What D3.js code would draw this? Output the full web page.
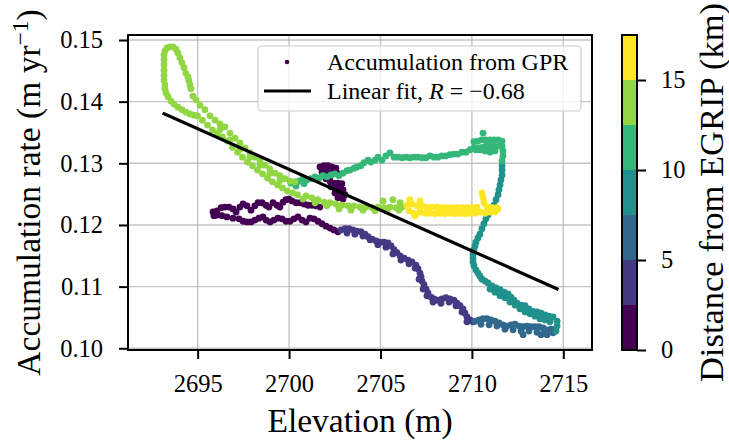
<!DOCTYPE html>
<html>
<head>
<meta charset="utf-8">
<script src="https://cdn.jsdelivr.net/npm/d3@7"></script>
<style>
  html, body { margin: 0; padding: 0; background: #fff; }
  svg { display: block; }
  text { font-family: "Liberation Serif", "Times New Roman", serif; fill: #000; }
</style>
</head>
<body>
<svg id="chart" width="729" height="443"></svg>
<script>
// GPR-derived accumulation along the traverse: [elevation (m), accumulation (m/yr), distance from EGRIP (km)]
const leg0 = [
  [2701.69,0.1294,0.02],[2701.91,0.1296,0.05],[2702.13,0.1296,0.08],[2702.34,0.1294,0.11],[2702.56,0.1292,0.14],
  [2701.80,0.1286,0.17],[2702.07,0.1286,0.20],[2702.34,0.1284,0.23],[2702.62,0.1284,0.26],[2702.24,0.1278,0.29],
  [2702.02,0.1275,0.32],[2702.24,0.1271,0.35],[2702.45,0.1268,0.38],[2702.67,0.1268,0.41],[2702.89,0.1267,0.44],
  [2702.29,0.1262,0.47],[2702.51,0.1260,0.50],[2702.73,0.1258,0.53],[2702.95,0.1257,0.56],[2702.51,0.1252,0.59],
  [2702.78,0.1250,0.62],[2703.06,0.1249,0.65],[2702.67,0.1244,0.68],[2702.95,0.1242,0.71],
  [2701.69,0.1229,0.74],[2701.47,0.1231,0.77],[2701.25,0.1232,0.80],[2701.04,0.1232,0.83],[2700.82,0.1234,0.86],
  [2700.60,0.1236,0.89],[2700.38,0.1236,0.92],[2700.16,0.1239,0.95],[2699.99,0.1242,0.98],[2699.83,0.1241,1.01],
  [2699.67,0.1237,1.04],[2699.50,0.1229,1.07],[2699.34,0.1232,1.10],[2699.12,0.1236,1.13],[2698.90,0.1229,1.16],
  [2698.74,0.1232,1.19],[2698.52,0.1236,1.22],[2698.30,0.1236,1.25],[2698.13,0.1231,1.28],[2697.92,0.1224,1.31],
  [2697.70,0.1231,1.34],[2697.48,0.1234,1.37],[2697.31,0.1229,1.40],[2697.10,0.1221,1.43],[2696.93,0.1226,1.46],
  [2696.71,0.1229,1.49],[2696.49,0.1229,1.52],[2696.28,0.1228,1.55],[2696.06,0.1223,1.58],[2695.84,0.1221,1.61],
  [2695.89,0.1215,1.63],[2696.06,0.1216,1.66],[2696.33,0.1215,1.69],[2696.60,0.1213,1.72],[2696.93,0.1211,1.75],
  [2697.26,0.1210,1.78],[2697.48,0.1206,1.81],[2697.70,0.1205,1.84],[2697.92,0.1205,1.87],[2698.13,0.1208,1.90],
  [2698.35,0.1211,1.93],[2698.57,0.1213,1.96],[2698.74,0.1208,1.99],[2698.96,0.1205,2.02],[2699.17,0.1208,2.05],
  [2699.39,0.1211,2.08],[2699.61,0.1210,2.11],[2699.83,0.1206,2.14],[2700.05,0.1206,2.17],[2700.27,0.1210,2.20],
  [2700.49,0.1213,2.23],[2700.71,0.1208,2.26],[2700.93,0.1205,2.29],[2701.14,0.1211,2.32],[2701.36,0.1210,2.35],
  [2701.58,0.1206,2.38],[2701.80,0.1202,2.40],[2702.02,0.1198,2.42],[2702.24,0.1195,2.44],[2702.45,0.1192,2.46],
  [2702.67,0.1189,2.48]
];
const leg1 = [
  [2702.84,0.1192,2.52],[2703.06,0.1194,2.56],[2703.17,0.1187,2.60],[2703.28,0.1194,2.64],[2703.49,0.1192,2.68],
  [2703.60,0.1185,2.72],[2703.71,0.1190,2.76],[2703.93,0.1189,2.80],[2704.04,0.1182,2.84],[2704.15,0.1185,2.88],
  [2704.32,0.1181,2.92],[2704.43,0.1176,2.96],[2704.54,0.1177,3.00],[2704.76,0.1174,3.04],[2704.86,0.1168,3.08],
  [2704.97,0.1172,3.12],[2705.19,0.1172,3.16],[2705.30,0.1164,3.20],[2705.41,0.1171,3.24],[2705.58,0.1166,3.28],
  [2705.68,0.1153,3.32],[2705.74,0.1160,3.36],[2705.90,0.1155,3.40],[2706.07,0.1150,3.44],[2706.12,0.1143,3.48],
  [2706.29,0.1146,3.52],[2706.51,0.1143,3.56],[2706.56,0.1137,3.60],[2706.72,0.1140,3.64],[2706.89,0.1130,3.68],
  [2706.94,0.1135,3.72],[2707.05,0.1129,3.76],[2707.16,0.1122,3.80],[2707.11,0.1112,3.84],[2707.22,0.1116,3.88],
  [2707.27,0.1109,3.92],[2707.38,0.1103,3.96],[2707.33,0.1096,4.00],[2707.49,0.1096,4.04],[2707.60,0.1090,4.08],
  [2707.54,0.1085,4.12],[2707.76,0.1083,4.16],[2707.87,0.1075,4.20],[2707.93,0.1080,4.24],[2708.14,0.1078,4.28],
  [2708.31,0.1073,4.32],[2708.36,0.1080,4.36],[2708.58,0.1082,4.40],[2708.75,0.1075,4.44],[2708.80,0.1080,4.48],
  [2709.02,0.1078,4.52],[2709.13,0.1069,4.56],[2709.19,0.1073,4.60],[2709.35,0.1069,4.64],[2709.46,0.1059,4.68],
  [2709.51,0.1064,4.72],[2709.62,0.1057,4.76],[2709.73,0.1051,4.80],[2709.73,0.1043,4.84],[2709.90,0.1046,4.88],
  [2710.06,0.1043,4.92]
];
const leg2 = [
  [2710.17,0.1044,5.03],[2710.39,0.1046,5.10],[2710.50,0.1039,5.17],[2710.61,0.1048,5.24],[2710.83,0.1048,5.31],
  [2710.94,0.1038,5.38],[2711.04,0.1046,5.45],[2711.26,0.1044,5.52],[2711.37,0.1036,5.59],[2711.48,0.1041,5.66],
  [2711.70,0.1038,5.73],[2711.81,0.1031,5.80],[2711.92,0.1036,5.87],[2712.14,0.1038,5.94],[2712.25,0.1030,6.01],
  [2712.36,0.1039,6.08],[2712.58,0.1036,6.15],[2712.69,0.1028,6.22],[2712.80,0.1035,6.29],[2712.80,0.1022,6.36],
  [2713.02,0.1036,6.43],[2713.12,0.1028,6.50],[2713.23,0.1035,6.57],[2713.45,0.1035,6.64],[2713.56,0.1026,6.71],
  [2713.67,0.1035,6.78],[2713.78,0.1022,6.85],[2713.89,0.1033,6.92],[2714.00,0.1025,6.99],[2714.11,0.1030,7.06],
  [2714.11,0.1022,7.13],[2714.33,0.1031,7.20],[2714.44,0.1025,7.27],[2714.55,0.1030,7.34]
];
const leg3 = [
  [2714.66,0.1036,7.52],[2714.60,0.1028,7.56],[2714.66,0.1044,7.60],[2714.44,0.1051,7.64],[2714.27,0.1043,7.68],
  [2714.22,0.1052,7.72],[2714.00,0.1054,7.76],[2714.00,0.1046,7.80],[2713.78,0.1057,7.84],[2713.72,0.1048,7.88],
  [2713.56,0.1059,7.92],[2713.45,0.1052,7.96],[2713.34,0.1060,8.00],[2713.18,0.1056,8.04],[2713.12,0.1064,8.08],
  [2712.91,0.1069,8.12],[2712.91,0.1059,8.16],[2712.69,0.1070,8.20],[2712.63,0.1064,8.24],[2712.47,0.1073,8.28],
  [2712.36,0.1070,8.32],[2712.30,0.1078,8.36],[2712.14,0.1083,8.40],[2712.08,0.1075,8.44],[2711.98,0.1088,8.48],
  [2711.81,0.1082,8.52],[2711.76,0.1091,8.56],[2711.54,0.1095,8.60],[2711.54,0.1085,8.64],[2711.32,0.1098,8.68],
  [2711.26,0.1091,8.72],[2711.10,0.1101,8.76],[2710.99,0.1096,8.80],[2710.88,0.1106,8.84],[2710.72,0.1109,8.88],
  [2710.55,0.1112,8.92],[2710.44,0.1117,8.96],[2710.33,0.1122,9.00],[2710.22,0.1127,9.04],[2710.11,0.1134,9.08],
  [2710.06,0.1140,9.12],[2710.06,0.1146,9.16],[2710.06,0.1153,9.20],[2710.11,0.1160,9.24],[2710.17,0.1166,9.28],
  [2710.22,0.1172,9.32],[2710.33,0.1179,9.36],[2710.44,0.1185,9.40],[2710.55,0.1194,9.44],[2710.66,0.1202,9.48],
  [2710.77,0.1210,9.52],[2710.88,0.1216,9.56],[2711.04,0.1224,9.60],[2711.21,0.1232,9.64],[2711.32,0.1241,9.68],
  [2711.43,0.1249,9.72],[2711.48,0.1257,9.76],[2711.54,0.1265,9.80],[2711.59,0.1273,9.84],[2711.65,0.1281,9.88],
  [2711.65,0.1289,9.92],[2711.65,0.1296,9.96]
];
const leg4 = [
  [2711.65,0.1304,10.02],[2711.70,0.1312,10.05],[2711.70,0.1320,10.08],[2711.65,0.1328,10.11],[2711.65,0.1336,10.14],
  [2711.48,0.1328,10.17],[2711.43,0.1338,10.20],[2711.26,0.1320,10.23],[2711.21,0.1328,10.26],[2711.21,0.1338,10.29],
  [2710.99,0.1318,10.32],[2710.99,0.1328,10.35],[2710.99,0.1338,10.38],[2710.77,0.1328,10.41],[2710.77,0.1338,10.44],
  [2710.72,0.1320,10.47],[2710.61,0.1349,10.50],[2710.55,0.1326,10.53],[2710.55,0.1338,10.56],[2710.44,0.1322,10.59],
  [2710.33,0.1336,10.62],[2710.33,0.1325,10.65],[2710.22,0.1322,10.68],[2710.11,0.1335,10.71],[2710.11,0.1325,10.74],
  [2709.90,0.1322,10.77],[2709.68,0.1318,10.80],[2709.46,0.1318,10.83],[2709.24,0.1315,10.86],[2709.02,0.1315,10.89],
  [2708.80,0.1314,10.92],[2708.58,0.1312,10.95],[2708.36,0.1312,10.98],[2708.14,0.1310,11.01],[2707.93,0.1310,11.04],
  [2707.71,0.1312,11.07],[2707.49,0.1309,11.10],[2707.27,0.1309,11.13],[2707.05,0.1310,11.16],[2706.83,0.1310,11.19],
  [2706.61,0.1309,11.22],[2706.40,0.1310,11.25],[2706.18,0.1309,11.28],[2705.96,0.1310,11.31],[2705.74,0.1310,11.34],
  [2705.52,0.1317,11.37],[2705.30,0.1312,11.40],[2705.08,0.1305,11.43],[2704.86,0.1310,11.46],[2704.70,0.1305,11.49],
  [2704.48,0.1302,11.52],[2704.32,0.1305,11.55],[2704.10,0.1301,11.58],[2703.93,0.1296,11.61],[2703.71,0.1294,11.64],
  [2703.55,0.1292,11.67],[2703.33,0.1289,11.70],[2703.17,0.1288,11.73],[2702.95,0.1284,11.76],[2702.73,0.1280,11.79],
  [2702.51,0.1283,11.82],[2702.29,0.1281,11.85],[2702.07,0.1278,11.88],[2701.85,0.1280,11.91],[2701.64,0.1276,11.94],
  [2701.42,0.1278,11.97],[2701.20,0.1275,12.00],[2700.98,0.1273,12.03],[2700.76,0.1275,12.06],[2700.54,0.1271,12.09],
  [2700.32,0.1270,12.12],[2700.10,0.1268,12.15],[2700.82,0.1267,12.18],[2700.38,0.1263,12.21]
];
const leg5 = [
  [2700.32,0.1270,12.52],[2700.05,0.1271,12.54],[2699.78,0.1275,12.56],[2699.50,0.1280,12.58],[2699.23,0.1284,12.60],
  [2698.95,0.1291,12.62],[2698.68,0.1297,12.64],[2698.41,0.1304,12.66],[2698.13,0.1310,12.68],[2697.86,0.1317,12.70],
  [2697.59,0.1325,12.72],[2697.31,0.1333,12.74],[2697.04,0.1341,12.76],[2696.77,0.1349,12.78],[2696.49,0.1359,12.80],
  [2696.22,0.1364,12.82],[2695.95,0.1370,12.84],[2695.67,0.1377,12.86],[2695.40,0.1387,12.88],[2695.13,0.1394,12.90],
  [2694.91,0.1403,12.92],[2694.74,0.1409,12.94],
  [2694.63,0.1421,12.96],[2694.58,0.1427,12.98],[2694.52,0.1434,13.00],[2694.47,0.1440,13.02],[2694.36,0.1446,13.04],
  [2694.25,0.1455,13.06],[2694.14,0.1463,13.08],[2694.03,0.1471,13.10],[2693.92,0.1479,13.12],[2693.81,0.1485,13.14],
  [2693.65,0.1489,13.16],[2693.48,0.1489,13.18],[2693.32,0.1487,13.20],[2693.21,0.1482,13.22],[2693.16,0.1476,13.24],
  [2693.16,0.1468,13.26],[2693.16,0.1460,13.28],[2693.16,0.1451,13.30],[2693.16,0.1443,13.32],[2693.16,0.1435,13.34],
  [2693.21,0.1427,13.36],[2693.21,0.1421,13.38],[2693.27,0.1414,13.40],[2693.38,0.1408,13.42],[2693.54,0.1401,13.44],
  [2693.70,0.1396,13.46],[2693.92,0.1391,13.48],[2694.14,0.1387,13.50],[2694.36,0.1383,13.52],[2694.58,0.1380,13.54],
  [2694.80,0.1378,13.56],
  [2694.99,0.1377,13.58],[2695.26,0.1370,13.60],[2695.54,0.1362,13.62],[2695.81,0.1354,13.64],[2696.08,0.1348,13.66],
  [2696.36,0.1343,13.68],[2696.63,0.1336,13.70],[2696.90,0.1326,13.72],[2697.18,0.1318,13.74],[2697.45,0.1310,13.76],
  [2697.72,0.1302,13.78],[2698.00,0.1296,13.80],[2698.27,0.1289,13.82],[2698.55,0.1283,13.84],[2698.82,0.1276,13.86],
  [2699.09,0.1270,13.88],[2699.37,0.1265,13.90],[2699.64,0.1260,13.92],[2699.91,0.1255,13.94],[2700.19,0.1252,13.96],
  [2700.46,0.1249,13.98],
  [2700.76,0.1242,14.00],[2700.93,0.1247,14.02],[2701.25,0.1244,14.04],[2701.42,0.1236,14.06],[2701.58,0.1241,14.08],
  [2701.91,0.1237,14.10],[2702.07,0.1231,14.12],[2702.24,0.1236,14.14],[2702.56,0.1234,14.16],[2702.73,0.1226,14.18],
  [2702.89,0.1232,14.20],[2703.22,0.1231,14.22],[2703.39,0.1224,14.24],[2703.55,0.1231,14.26],[2703.88,0.1229,14.28],
  [2704.04,0.1224,14.30],[2704.21,0.1229,14.32],[2704.54,0.1228,14.34],[2704.70,0.1223,14.36],[2704.86,0.1229,14.38],
  [2705.14,0.1239,14.40],[2705.19,0.1228,14.42],[2705.36,0.1223,14.44],[2705.52,0.1229,14.46],[2705.68,0.1241,14.48],
  [2705.85,0.1228,14.50],[2706.01,0.1224,14.52],[2706.07,0.1236,14.54],[2706.18,0.1229,14.56],
  [2697.31,0.1323,14.60],[2697.86,0.1310,14.64],[2698.41,0.1297,14.68],[2698.95,0.1284,14.72],[2699.50,0.1272,14.76],
  [2696.22,0.1355,14.80],[2696.77,0.1338,14.84]
];
const leg6 = [
  [2706.45,0.1232,15.03],[2706.56,0.1223,15.08],[2706.61,0.1241,15.13],[2706.72,0.1234,15.18],[2706.83,0.1219,15.23],
  [2706.89,0.1215,15.28],[2707.00,0.1231,15.33],[2707.16,0.1221,15.38],[2707.16,0.1239,15.43],[2707.27,0.1231,15.48],
  [2707.43,0.1219,15.53],[2707.54,0.1229,15.58],[2707.71,0.1219,15.63],[2707.82,0.1229,15.68],[2707.98,0.1218,15.73],
  [2708.09,0.1229,15.78],[2708.26,0.1219,15.83],[2708.36,0.1228,15.88],[2708.53,0.1218,15.93],[2708.64,0.1228,15.98],
  [2708.80,0.1219,16.03],[2708.91,0.1228,16.08],[2709.08,0.1218,16.13],[2709.19,0.1228,16.18],[2709.35,0.1219,16.23],
  [2709.46,0.1228,16.28],[2709.62,0.1218,16.33],[2709.73,0.1228,16.38],[2709.90,0.1219,16.43],[2710.00,0.1228,16.48],
  [2710.17,0.1219,16.53],[2710.28,0.1229,16.58],[2710.44,0.1221,16.63],[2710.55,0.1252,16.68],[2710.61,0.1244,16.73],
  [2710.66,0.1236,16.78],[2710.72,0.1219,16.83],[2710.83,0.1229,16.88],[2710.99,0.1221,16.93],[2711.10,0.1228,16.98],
  [2711.26,0.1221,17.03],[2711.37,0.1228,17.08],[2711.43,0.1226,17.13],
  [2707.60,0.1223,17.18],[2708.14,0.1223,17.22],[2708.69,0.1223,17.26],[2709.24,0.1223,17.30],[2709.79,0.1223,17.34],
  [2710.33,0.1223,17.38],[2710.88,0.1223,17.42]
];

// Axis ticks, colour-bar levels and legend text
const xTicks = [2695, 2700, 2705, 2710, 2715];
const yTicks = [0.10, 0.11, 0.12, 0.13, 0.14, 0.15];
const cbTicks = [0, 5, 10, 15];
const kmLevels = [0, 2.5, 5, 7.5, 10, 12.5, 15, 17.5];
const legendGPR = "Accumulation from GPR";
const legendFit = "Linear fit, ";

// Least-squares fit of accumulation against elevation
const fitSlope = -0.00132;   // (m/yr) per m
const fitAt2700 = 0.1290;    // accumulation at 2700 m
const fitR = -0.68;

// ---------------------------------------------------------------------------
const svg = d3.select("#chart");
const plot = { left: 128, right: 592, top: 35, bottom: 350 };
const fontTick = 24.5, fontLabel = 33.5, fontLegend = 24;

const x = d3.scaleLinear().domain([2691.19, 2716.57]).range([plot.left, plot.right]);
const y = d3.scaleLinear().domain([0.09972, 0.15081]).range([plot.bottom, plot.top]);

const nLevels = kmLevels.length - 1;
const levelColors = d3.range(nLevels).map(i => d3.interpolateViridis(i / (nLevels - 1)));
const color = d3.scaleThreshold().domain(kmLevels.slice(1, -1)).range(levelColors);

const points = [leg0, leg1, leg2, leg3, leg4, leg5, leg6].flat()
  .map(([elev, acc, km]) => ({ elev, acc, km }));

svg.append("defs").append("clipPath").attr("id", "plot-clip")
  .append("rect")
  .attr("x", plot.left).attr("y", plot.top)
  .attr("width", plot.right - plot.left).attr("height", plot.bottom - plot.top);

// grid
const grid = svg.append("g")
  .attr("stroke", "#b0b0b0").attr("stroke-opacity", 0.75).attr("stroke-width", 1.4);
grid.selectAll("line.vx").data(xTicks).join("line").attr("class", "vx")
  .attr("x1", d => x(d)).attr("x2", d => x(d))
  .attr("y1", plot.top).attr("y2", plot.bottom);
grid.selectAll("line.hy").data(yTicks).join("line").attr("class", "hy")
  .attr("x1", plot.left).attr("x2", plot.right)
  .attr("y1", d => y(d)).attr("y2", d => y(d));

// scatter
svg.append("g").attr("clip-path", "url(#plot-clip)")
  .selectAll("circle").data(points).join("circle")
  .attr("cx", d => x(d.elev))
  .attr("cy", d => y(d.acc))
  .attr("r", 3.4)
  .attr("fill", d => color(d.km));

// regression line over the elevation range of the data
const [eMin, eMax] = d3.extent(points, d => d.elev);
const fitLine = d3.line().x(d => x(d)).y(d => y(fitAt2700 + fitSlope * (d - 2700)));
svg.append("path")
  .datum([eMin, eMax])
  .attr("d", fitLine)
  .attr("fill", "none").attr("stroke", "#000").attr("stroke-width", 3.2)
  .attr("stroke-linecap", "square");

// axes
function styleAxis(g) {
  g.attr("font-family", null).attr("font-size", null);
  g.select(".domain").remove();
  g.selectAll(".tick line").attr("stroke", "#000").attr("stroke-width", 2);
  g.selectAll(".tick text").attr("font-size", fontTick).attr("fill", "#000");
}
svg.append("g")
  .attr("transform", `translate(0,${plot.bottom})`)
  .call(d3.axisBottom(x).tickValues(xTicks).tickSize(9).tickPadding(16).tickFormat(d3.format("d")))
  .call(styleAxis);
svg.append("g")
  .attr("transform", `translate(${plot.left},0)`)
  .call(d3.axisLeft(y).tickValues(yTicks).tickSize(9).tickPadding(16).tickFormat(d3.format(".2f")))
  .call(styleAxis);

// frame
svg.append("rect")
  .attr("x", plot.left).attr("y", plot.top)
  .attr("width", plot.right - plot.left).attr("height", plot.bottom - plot.top)
  .attr("fill", "none").attr("stroke", "#000").attr("stroke-width", 2);

// axis titles
svg.append("text")
  .attr("x", (plot.left + plot.right) / 2).attr("y", 432)
  .attr("text-anchor", "middle").attr("font-size", fontLabel)
  .text("Elevation (m)");

const yTitle = svg.append("text")
  .attr("transform", `translate(40,${(plot.top + plot.bottom) / 2}) rotate(-90)`)
  .attr("text-anchor", "middle").attr("font-size", fontLabel);
yTitle.append("tspan").text("Accumulation rate (m yr");
yTitle.append("tspan").attr("font-size", fontLabel * 0.7).attr("dy", -12).text("\u22121");
yTitle.append("tspan").attr("dy", 12).text(")");

// colour bar
const cb = { x: 622, w: 15 };
const yKm = d3.scaleLinear().domain([kmLevels[0], kmLevels[kmLevels.length - 1]]).range([plot.bottom, plot.top]);
const cbg = svg.append("g");
cbg.selectAll("rect.level").data(d3.range(nLevels)).join("rect").attr("class", "level")
  .attr("x", cb.x).attr("width", cb.w)
  .attr("y", i => yKm(kmLevels[i + 1]))
  .attr("height", i => yKm(kmLevels[i]) - yKm(kmLevels[i + 1]))
  .attr("fill", i => levelColors[i]);
cbg.append("rect")
  .attr("x", cb.x).attr("y", plot.top).attr("width", cb.w).attr("height", plot.bottom - plot.top)
  .attr("fill", "none").attr("stroke", "#000").attr("stroke-width", 2);
svg.append("g")
  .attr("transform", `translate(${cb.x + cb.w},0)`)
  .call(d3.axisRight(yKm).tickValues(cbTicks).tickSize(9).tickPadding(15).tickFormat(d3.format("d")))
  .call(styleAxis);
svg.append("text")
  .attr("transform", `translate(723,${(plot.top + plot.bottom) / 2}) rotate(-90)`)
  .attr("text-anchor", "middle").attr("font-size", 34.5)
  .text("Distance from EGRIP (km)");

// legend
const lg = svg.append("g");
lg.append("rect")
  .attr("x", 258).attr("y", 46).attr("width", 323).attr("height", 65).attr("rx", 4)
  .attr("fill", "#fff").attr("fill-opacity", 0.8)
  .attr("stroke", "#cccccc").attr("stroke-width", 1.2);
lg.append("circle").attr("cx", 287).attr("cy", 62).attr("r", 2.3).attr("fill", color(points[0].km));
lg.append("text").attr("x", 327).attr("y", 70).attr("font-size", fontLegend).text(legendGPR);
lg.append("line").attr("x1", 264).attr("x2", 311).attr("y1", 91).attr("y2", 91)
  .attr("stroke", "#000").attr("stroke-width", 3.2);
const fitText = lg.append("text").attr("x", 327).attr("y", 99).attr("font-size", fontLegend);
fitText.append("tspan").text(legendFit);
fitText.append("tspan").attr("font-style", "italic").text("R");
fitText.append("tspan").text(" = " + d3.format(".2f")(fitR).replace("-", "\u2212"));
</script>
</body>
</html>
